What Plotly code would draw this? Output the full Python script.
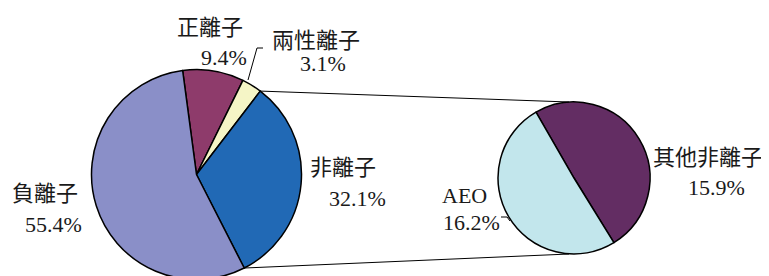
import math
import plotly.graph_objects as go

# ---------------- data ----------------
main_labels = ["正離子", "兩性離子", "非離子", "負離子"]
main_values = [9.4, 3.1, 32.1, 55.4]
main_colors = ["#8E3B6B", "#F5F5C6", "#2169B5", "#8A8FC8"]

sub_labels = ["其他非離子", "AEO"]
sub_values = [15.9, 16.2]
sub_colors = ["#632D63", "#C2E6EC"]

label_text = {
    "正離子": ("正離子", "9.4%"),
    "兩性離子": ("兩性離子", "3.1%"),
    "非離子": ("非離子", "32.1%"),
    "負離子": ("負離子", "55.4%"),
    "其他非離子": ("其他非離子", "15.9%"),
    "AEO": ("AEO", "16.2%"),
}

# ---------------- layout geometry (screen pixels) ----------------
FW, FH = 769, 290          # figure size
OX, OY = 8, 8              # page (body) offset of the figure
L_CX, L_CY, L_R = 196.5, 174.5, 105.0
R_CX, R_CY, R_R = 574.0, 178.0, 76.0
L_ROT = -7.6
R_ROT = -30.0

def px(x):
    return (x - OX) / FW

def py(y):
    return 1 - (y - OY) / FH

fig = go.Figure()
fig.add_trace(go.Pie(
    labels=main_labels, values=main_values, sort=False, direction="clockwise",
    rotation=L_ROT, textinfo="none", showlegend=False,
    marker=dict(colors=main_colors, line=dict(color="black", width=1.5)),
    domain=dict(x=[px(L_CX - L_R), px(L_CX + L_R)], y=[py(L_CY + L_R), py(L_CY - L_R)]),
))
fig.add_trace(go.Pie(
    labels=sub_labels, values=sub_values, sort=False, direction="clockwise",
    rotation=R_ROT, textinfo="none", showlegend=False,
    marker=dict(colors=sub_colors, line=dict(color="black", width=1.5)),
    domain=dict(x=[px(R_CX - R_R), px(R_CX + R_R)], y=[py(R_CY + R_R), py(R_CY - R_R)]),
))

# connector lines from the exploded slice (非離子) to the secondary pie
total = sum(main_values)
idx = main_labels.index("非離子")
start_frac = sum(main_values[:idx]) / total
end_frac = sum(main_values[:idx + 1]) / total
a1 = math.radians(L_ROT + start_frac * 360)
a2 = math.radians(L_ROT + end_frac * 360)
p1 = (L_CX + L_R * math.sin(a1), L_CY - L_R * math.cos(a1))
p2 = (L_CX + L_R * math.sin(a2), L_CY - L_R * math.cos(a2))
q1 = (R_CX - 5, R_CY - R_R)
q2 = (R_CX - 5, R_CY + R_R)
shapes = []
for p, q in ((p1, q1), (p2, q2)):
    shapes.append(dict(type="line", xref="paper", yref="paper",
                       x0=px(p[0]), y0=py(p[1]), x1=px(q[0]), y1=py(q[1]),
                       line=dict(color="black", width=1)))

# leader lines
shapes.append(dict(type="path", xref="paper", yref="paper",
                   path=f"M {px(248)} {py(80)} L {px(257)} {py(48)} L {px(263)} {py(48)}",
                   line=dict(color="black", width=1)))
shapes.append(dict(type="path", xref="paper", yref="paper",
                   path=f"M {px(501)} {py(217)} L {px(507)} {py(217)} L {px(510)} {py(221)}",
                   line=dict(color="black", width=1)))

# label positions (screen pixels: name line centre, value line centre)
label_pos = {
    "正離子": ((209.5, 27), (223.5, 57)),
    "兩性離子": ((316, 40), (323, 63)),
    "非離子": ((342.5, 167), (357.5, 198)),
    "負離子": ((45, 194), (53, 224)),
    "其他非離子": ((707.5, 157), (716.5, 187)),
    "AEO": ((464.5, 195), (471.5, 222)),
}
annotations = []
font = dict(family="Liberation Serif, Noto Sans CJK TC, serif", size=22, color="#1a1a1a")
for key, (t1, t2) in label_text.items():
    (x1, y1), (x2, y2) = label_pos[key]
    for txt, (x, y) in ((t1, (x1, y1)), (t2, (x2, y2))):
        annotations.append(dict(text=txt, x=px(x), y=py(y), xref="paper", yref="paper",
                                xanchor="center", yanchor="middle", showarrow=False, font=font))

fig.update_layout(
    width=FW, height=FH, margin=dict(l=0, r=0, t=0, b=0),
    paper_bgcolor="white", plot_bgcolor="white",
    shapes=shapes, annotations=annotations,
)
fig.write_html("out.html")
